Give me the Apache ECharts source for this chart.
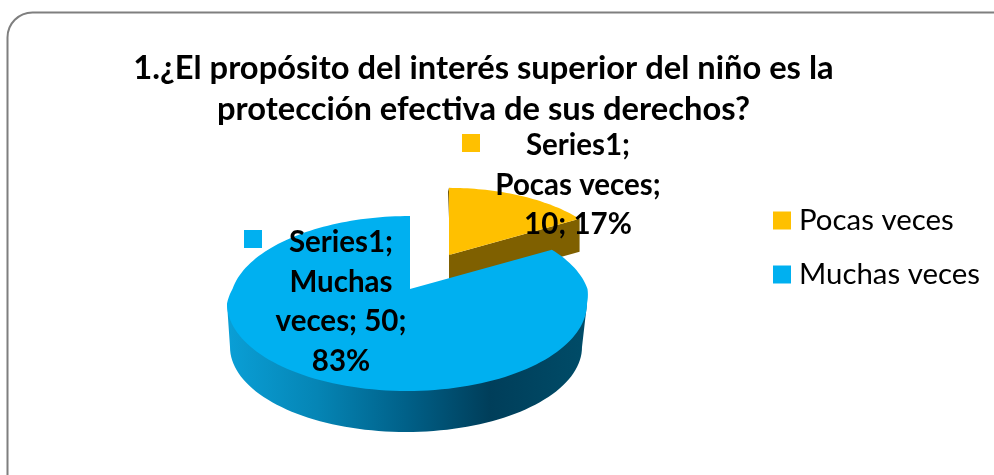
<!DOCTYPE html>
<html>
<head>
<meta charset="utf-8">
<style>html,body{margin:0;padding:0;background:#fff;overflow:hidden}#c{width:994px;height:475px}</style>
<script src="https://cdn.jsdelivr.net/npm/echarts@6/dist/echarts.min.js"></script>
</head>
<body>
<div id="c"></div>
<script>
const titleText = '1.¿El propósito del interés superior del niño es la\nprotección efectiva de sus derechos?';
const seriesLabel = 'Series1';
const categories = ['Pocas veces', 'Muchas veces'];
const values = [10, 50];
const colors = ['#FFC000', '#00B0F0'];

const total = values.reduce((a, b) => a + b, 0);
const pct = values.map(v => Math.round(v / total * 100));
const labelLines = [
  [seriesLabel + ';', categories[0] + ';', values[0] + '; ' + pct[0] + '%'],
  [seriesLabel + ';', 'Muchas', 'veces; ' + values[1] + ';', pct[1] + '%']
];

// Perspective pie geometry
const G = { cx: 407, cy: 303.5, a: 180, b: 87.5, k: 0.166, pivotShift: 3,
            botCx: 406, botCy: 347, botA: 176, botB: 85, depth: 33,
            explode: { x: 449, y: 255, scale: 0.92 } };
const LABELS = [
  { x: 578, y: 185, keyX: 462, keyY: 134 },
  { x: 341, y: 302, keyX: 244, keyY: 230 }
];

function proj(theta) {
  const u = Math.sin(theta), v = Math.cos(theta), k = G.k;
  const d = 1 + k * v;
  const vp = (v + k) / d, up = u * Math.sqrt(1 - k * k) / d;
  const shift = G.pivotShift * Math.max(0, Math.min(1, vp / k));
  return [G.cx + up * G.a + shift, G.cy - vp * G.b];
}
const pivot = () => [G.cx + G.pivotShift, G.cy - G.k * G.b];

function arc(from, to, n) {
  const pts = [];
  for (let i = 0; i <= n; i++) pts.push(proj(from + (to - from) * i / n));
  return pts;
}

function sliceAngles(i) {
  let acc = 0;
  for (let j = 0; j < i; j++) acc += values[j];
  return [acc / total * 2 * Math.PI, (acc + values[i]) / total * 2 * Math.PI];
}

const blueWall = new echarts.graphic.LinearGradient(0, 0, 1, 0, [
  { offset: 0, color: '#0A9FD6' },
  { offset: 0.25, color: '#0585B5' },
  { offset: 0.5, color: '#006088' },
  { offset: 0.73, color: '#003E5A' },
  { offset: 1, color: '#004C68' }
]);

function renderSlice(i) {
  return function (params, api) {
    const [t0, t1] = sliceAngles(i);
    const children = [];
    const color = colors[i];
    if (i === 0) {
      const E = G.explode, p0 = pivot();
      const move = p => [E.x + E.scale * (p[0] - p0[0]), E.y + E.scale * (p[1] - p0[1])];
      const pts = arc(t0, t1, 40).map(move);
      const last = pts[pts.length - 1], first = pts[0];
      const apex = [E.x, E.y];
      children.push({ type: 'polygon', silent: true,
        shape: { points: [first, apex, [apex[0] + 1.5, apex[1] + 3], [first[0] - 1, first[1] + 4]] },
        style: { fill: '#6E5400' } });
      children.push({ type: 'polygon', silent: true,
        shape: { points: [apex, last, [last[0], last[1] + G.depth], [apex[0], apex[1] + G.depth]] },
        style: { fill: '#7F6000' } });
      children.push({ type: 'polygon', silent: true,
        shape: { points: [apex].concat(pts) }, style: { fill: color } });
    } else {
      const pts = [];
      for (let n = 0; n <= 80; n++) {
        const t = Math.PI * 0.5 + Math.PI * n / 80;
        pts.push([G.botCx + Math.sin(t) * G.botA, G.botCy - Math.cos(t) * G.botB]);
      }
      const wall = [[G.cx + G.a, G.cy]].concat(pts).concat([[G.cx - G.a, G.cy]]);
      children.push({ type: 'polygon', silent: true, shape: { points: wall }, style: { fill: blueWall } });
      children.push({ type: 'polygon', silent: true,
        shape: { points: [pivot()].concat(arc(t0, t1, 160)) }, style: { fill: color } });
    }
    const L = LABELS[i];
    children.push({ type: 'rect', silent: true, z2: 10,
      shape: { x: L.keyX, y: L.keyY, width: 18, height: 18 }, style: { fill: color } });
    children.push({ type: 'text', silent: true, z2: 11,
      style: { x: L.x, y: L.y, text: labelLines[i].join('\n'), align: 'center', verticalAlign: 'middle',
        fontFamily: 'Lato', fontWeight: 'bold', fontSize: 29.5, lineHeight: 39.5, fill: '#000' } });
    return { type: 'group', children: children };
  };
}

const chart = echarts.init(document.getElementById('c'), null, { renderer: 'canvas' });
chart.setOption({
  animation: false,
  backgroundColor: '#fff',
  title: {
    text: titleText, left: 478.5, top: 43, textAlign: 'center',
    textStyle: { fontFamily: 'Lato', fontWeight: 'bold', fontSize: 32.7, lineHeight: 41, color: '#000' }
  },
  legend: {
    orient: 'vertical', left: 768, top: 201, itemWidth: 18, itemHeight: 18, itemGap: 25,
    icon: 'rect', selectedMode: false,
    data: categories,
    textStyle: { fontFamily: 'Lato', fontSize: 29.4, color: '#000', padding: [0, 0, 0, 3] }
  },
  graphic: [{
    type: 'rect', silent: true, z: -1,
    shape: { x: 7.5, y: 12.5, width: 1100, height: 600, r: 25 },
    style: { fill: '#fff', stroke: '#7F7F7F', lineWidth: 2 }
  }],
  series: categories.map((name, i) => ({
    type: 'custom', name: name, coordinateSystem: 'none', z: 2 + i,
    itemStyle: { color: colors[i] },
    data: [[values[i]]],
    renderItem: renderSlice(i)
  }))
});
</script>
</body>
</html>
